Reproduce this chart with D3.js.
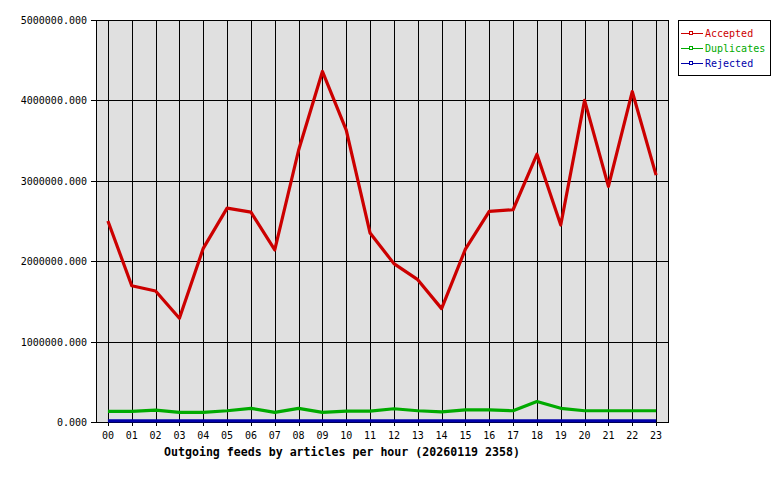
<!DOCTYPE html>
<html>
<head>
<meta charset="utf-8">
<script src="https://cdn.jsdelivr.net/npm/d3@7"></script>
<style>
  body { margin: 0; background: #fff; }
  text { font-family: "DejaVu Sans Mono", monospace; }
</style>
</head>
<body>
<div id="app"></div>
<script>
const hours = ["00","01","02","03","04","05","06","07","08","09","10","11",
  "12","13","14","15","16","17","18","19","20","21","22","23"];
const accepted = [2500000, 1695000, 1630000, 1290000, 2160000, 2660000, 2610000, 2140000,
  3380000, 4360000, 3630000, 2350000, 1970000, 1770000, 1410000, 2150000,
  2620000, 2640000, 3330000, 2450000, 4000000, 2930000, 4110000, 3070000];
const duplicates = [133000, 133000, 148000, 120000, 120000, 140000, 170000, 120000,
  170000, 120000, 135000, 135000, 165000, 140000, 125000, 150000,
  150000, 140000, 255000, 170000, 140000, 140000, 140000, 140000];
const rejected = [15000, 15000, 15000, 15000, 15000, 15000, 15000, 15000,
  15000, 15000, 15000, 15000, 15000, 15000, 15000, 15000,
  15000, 15000, 15000, 15000, 15000, 15000, 15000, 15000];
const yTicks = [0, 1000000, 2000000, 3000000, 4000000, 5000000];
const series = [
  { name: "Accepted", values: accepted, color: "#cc0000" },
  { name: "Duplicates", values: duplicates, color: "#00aa00" },
  { name: "Rejected", values: rejected, color: "#0000aa" }
];

const width = 780;
const height = 480;
const plotLeft = 96, plotRight = 668, plotTop = 20, plotBottom = 422;

const x = d3.scaleLinear().domain([-0.5, hours.length - 0.5]).range([plotLeft, plotRight]);
const y = d3.scaleLinear().domain([0, 5000000]).range([plotBottom, plotTop]);

const svg = d3.select("#app").append("svg")
  .attr("width", width)
  .attr("height", height);

svg.append("rect")
  .attr("x", plotLeft + 0.5).attr("y", plotTop + 0.5)
  .attr("width", plotRight - plotLeft).attr("height", plotBottom - plotTop)
  .attr("fill", "#e0e0e0")
  .attr("stroke", "#000");

// grid
svg.append("g").selectAll("line")
  .data(hours)
  .join("line")
  .attr("x1", (d, i) => Math.round(x(i)) + 0.5)
  .attr("x2", (d, i) => Math.round(x(i)) + 0.5)
  .attr("y1", plotTop).attr("y2", plotBottom + 4)
  .attr("stroke", "#000");

svg.append("g").selectAll("line")
  .data(yTicks)
  .join("line")
  .attr("x1", plotLeft - 5).attr("x2", plotRight)
  .attr("y1", d => Math.round(y(d)) + 0.5)
  .attr("y2", d => Math.round(y(d)) + 0.5)
  .attr("stroke", "#000");

svg.append("g").selectAll("text")
  .data(yTicks)
  .join("text")
  .attr("x", plotLeft - 9)
  .attr("y", d => y(d) + 4)
  .attr("text-anchor", "end")
  .style("font-size", "10px")
  .text(d => d3.format(".3f")(d));

svg.append("g").selectAll("text")
  .data(hours)
  .join("text")
  .attr("x", (d, i) => x(i))
  .attr("y", 439)
  .attr("text-anchor", "middle")
  .style("font-size", "10px")
  .text(d => d);

const line = d3.line()
  .x((d, i) => x(i))
  .y(d => y(d));

svg.append("g").selectAll("path")
  .data(series)
  .join("path")
  .attr("d", d => line(d.values))
  .attr("fill", "none")
  .attr("stroke", d => d.color)
  .attr("stroke-width", 3.2)
  .attr("stroke-linejoin", "round");

svg.append("text")
  .attr("x", 342)
  .attr("y", 456)
  .attr("text-anchor", "middle")
  .style("font-size", "11.6px")
  .style("font-weight", "bold")
  .text("Outgoing feeds by articles per hour (20260119 2358)");

// legend
const legend = svg.append("g");
legend.append("rect")
  .attr("x", 678.5).attr("y", 20.5)
  .attr("width", 92).attr("height", 55)
  .attr("fill", "#fff")
  .attr("stroke", "#000");

const item = legend.selectAll("g")
  .data(series)
  .join("g")
  .attr("transform", (d, i) => `translate(0, ${33 + i * 15})`);

item.append("line")
  .attr("x1", 681).attr("x2", 703)
  .attr("y1", 0.5).attr("y2", 0.5)
  .attr("stroke", d => d.color);

item.append("rect")
  .attr("x", 689.5).attr("y", -1.5)
  .attr("width", 3).attr("height", 3)
  .attr("fill", "#fff")
  .attr("stroke", d => d.color);

item.append("text")
  .attr("x", 705)
  .attr("y", 4)
  .attr("fill", d => d.color)
  .style("font-size", "10px")
  .text(d => d.name);
</script>
</body>
</html>
